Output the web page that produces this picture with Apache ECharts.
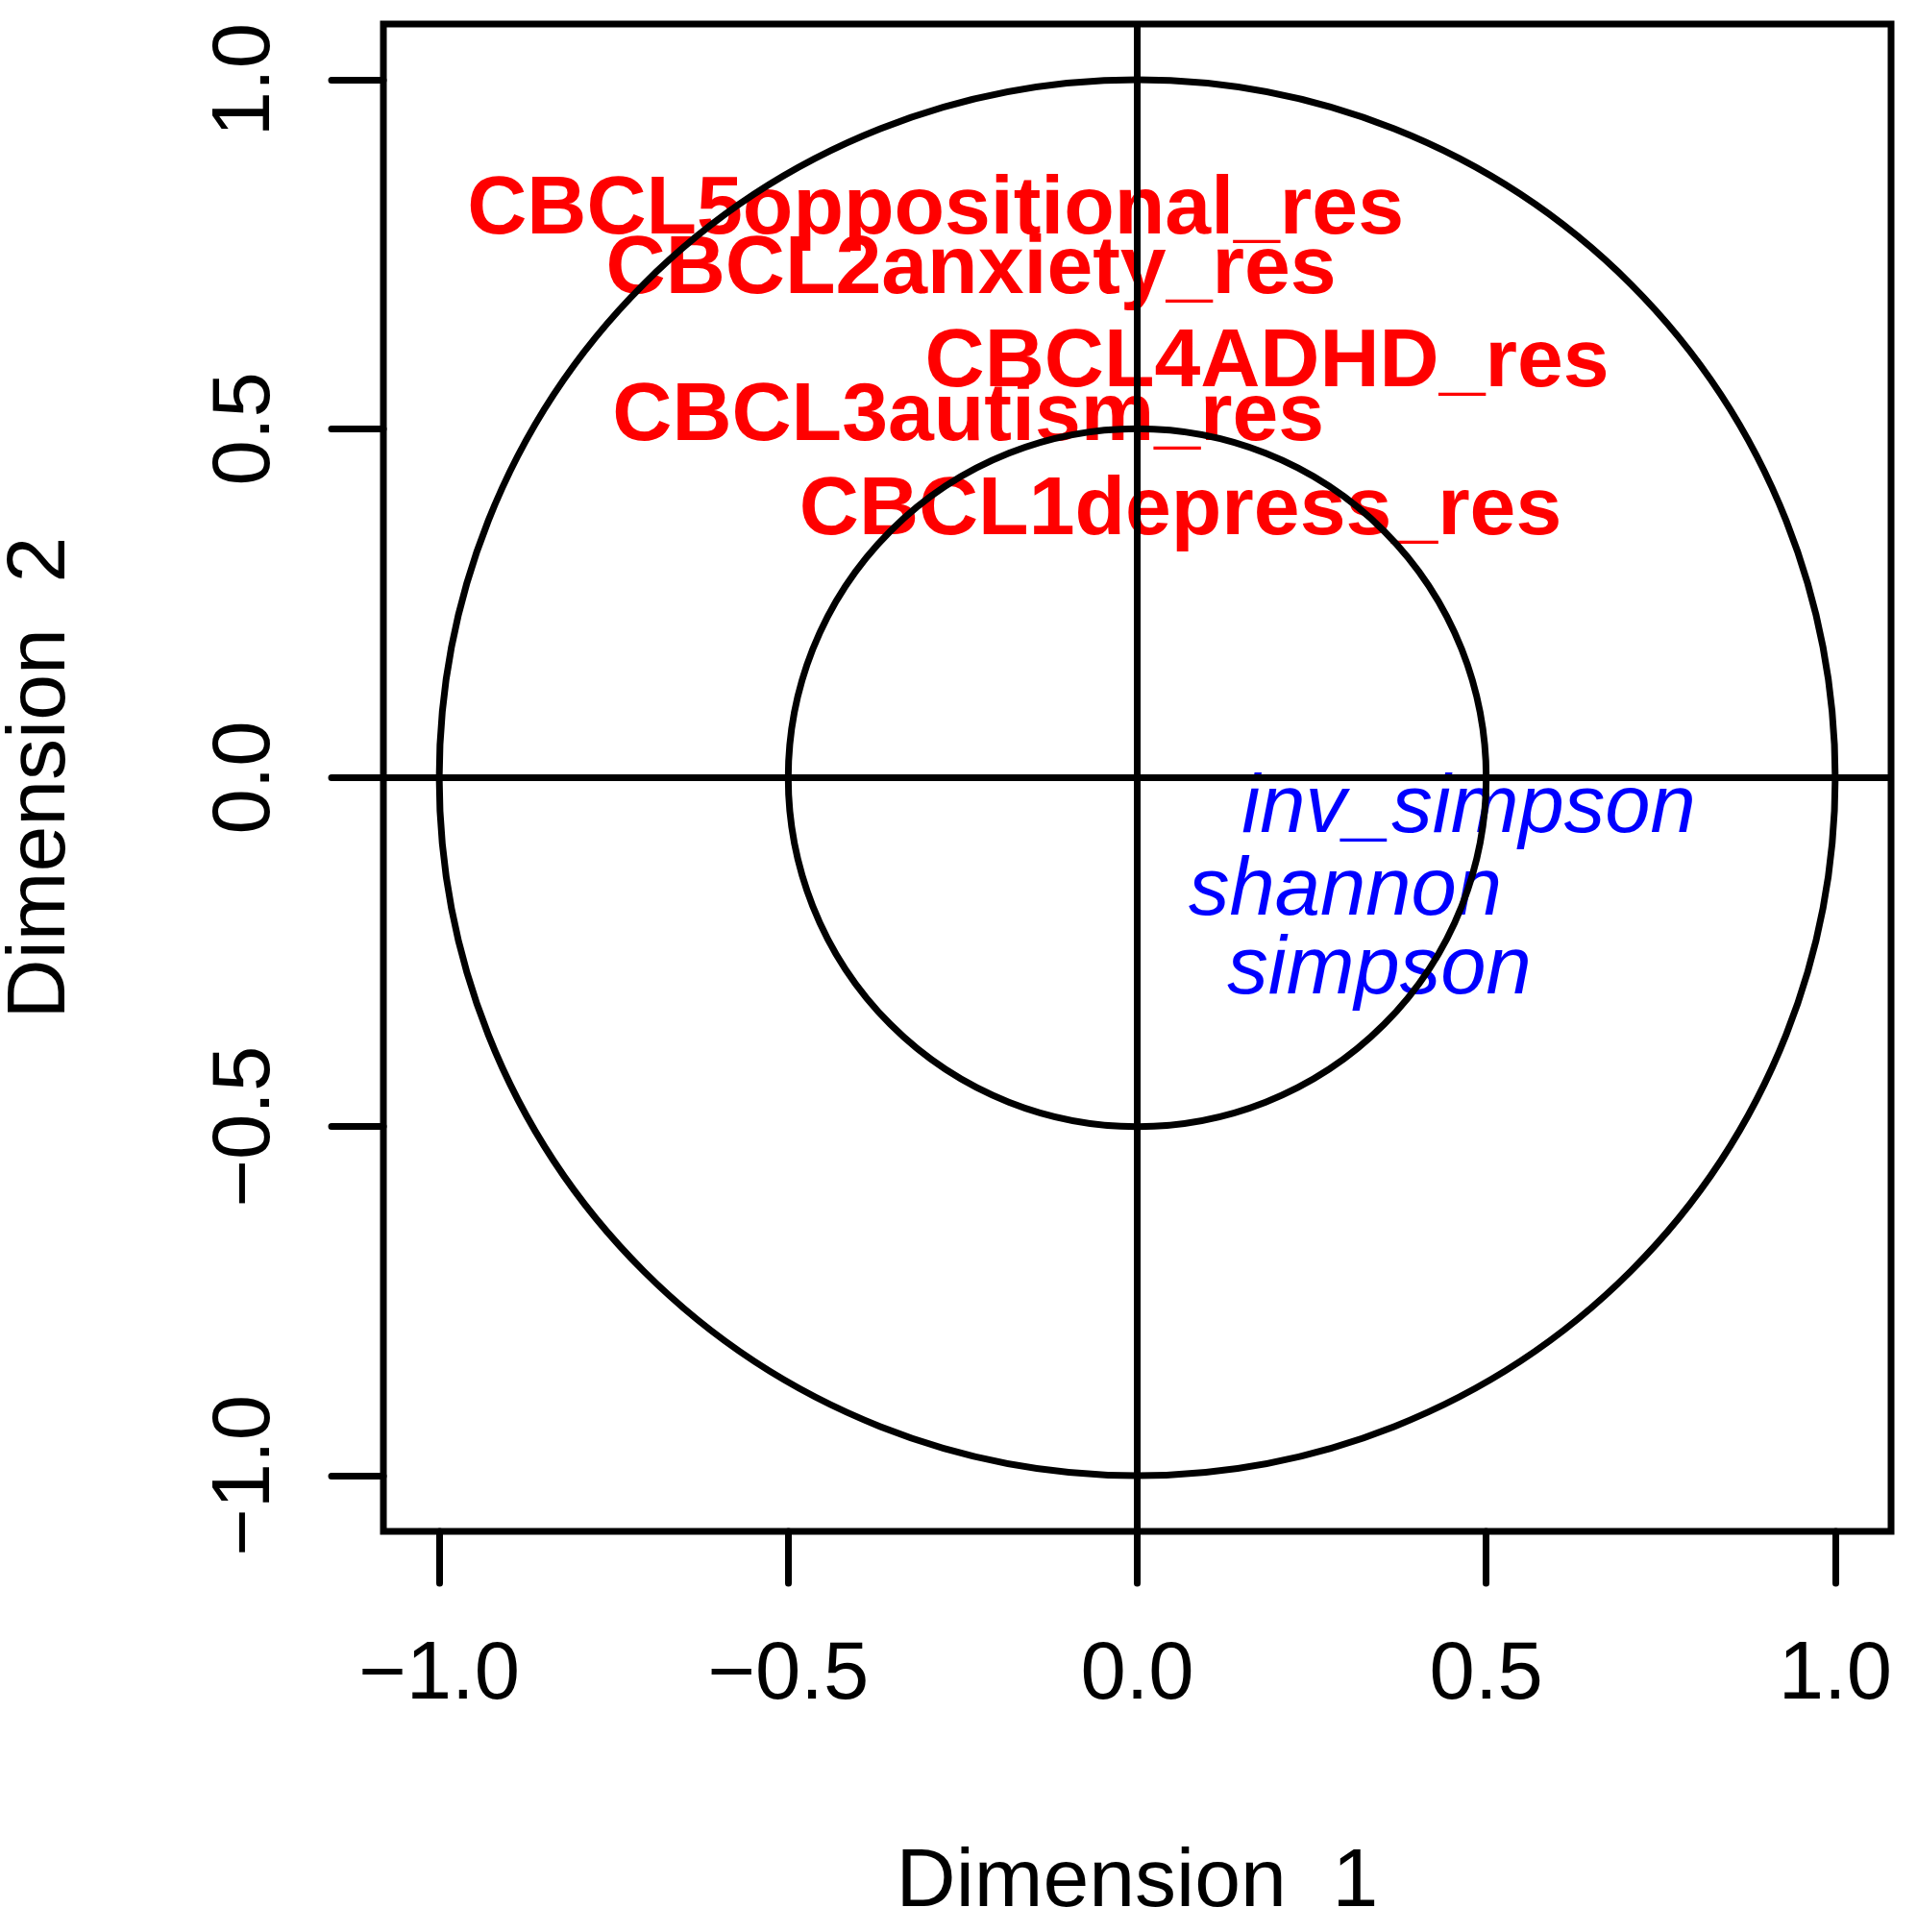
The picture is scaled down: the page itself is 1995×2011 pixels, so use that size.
<!DOCTYPE html>
<html>
<head>
<meta charset="utf-8">
<script src="https://cdn.jsdelivr.net/npm/echarts@6/dist/echarts.min.js"></script>
<style>
html,body{margin:0;padding:0;background:#fff;}
#chart{width:1995px;height:2011px;}
</style>
</head>
<body>
<div id="chart"></div>
<script>
// ---- data ----
const redNames = ["CBCL5oppositional_res","CBCL2anxiety_res","CBCL4ADHD_res","CBCL3autism_res","CBCL1depress_res"];
const redDim1  = [-0.289, -0.238, 0.186, -0.242, 0.062];
const redDim2  = [0.812, 0.727, 0.593, 0.516, 0.382];
const blueNames = ["inv_simpson","shannon","simpson"];
const blueDim1  = [0.475, 0.298, 0.347];
const blueDim2  = [-0.045, -0.164, -0.276];
const tickVals   = [-1, -0.5, 0, 0.5, 1];
const tickLabels = ["\u22121.0","\u22120.5","0.0","0.5","1.0"];
const circleRadii = [1, 0.5];
const xName = "Dimension  1";
const yName = "Dimension  2";

const FONT = "Liberation Sans";
const fmt = v => { const i = tickVals.findIndex(t => Math.abs(t - v) < 1e-9); return i >= 0 ? tickLabels[i] : ""; };

const chart = echarts.init(document.getElementById('chart'), null, {renderer:'canvas'});
const LW = 7;
const axisCommon = {
  type: 'value', min: -1.08, max: 1.08,
  splitLine: {show:false},
  axisLine: {show:false, onZero:false},
  axisTick: {show:true, customValues: tickVals, length: 54, lineStyle:{color:'#000', width:LW, cap:'round'}},
  axisLabel: {show:true, customValues: tickVals, formatter: fmt, color:'#000', fontFamily: FONT, fontSize: 85},
  nameLocation: 'middle',
  nameTextStyle: {color:'#000', fontFamily: FONT, fontSize: 86}
};
const option = {
  animation: false,
  backgroundColor: '#fff',
  grid: {left: 399, right: 27, top: 25, bottom: 417, containLabel: false, outerBoundsMode: 'none',
         show: true, borderColor: '#000', borderWidth: LW, backgroundColor: 'transparent'},
  xAxis: Object.assign({}, axisCommon, {
    name: xName, nameGap: 323,
    axisLabel: Object.assign({}, axisCommon.axisLabel, {margin: 108})
  }),
  yAxis: Object.assign({}, axisCommon, {
    name: yName, nameGap: 313,
    axisLabel: Object.assign({}, axisCommon.axisLabel, {margin: 100, rotate: 90})
  }),
  series: [
    {
      type: 'scatter', z: 2,
      data: redNames.map((n,i) => ({name:n, value:[redDim1[i], redDim2[i]]})),
      symbolSize: 1, itemStyle: {color:'rgba(0,0,0,0)', opacity: 1},
      label: {show:true, position:'inside', formatter: p => p.name, color:'#ff0000', opacity: 1, fontFamily: FONT, fontWeight:'bold', fontSize: 86, align:'center', verticalAlign:'middle'}
    },
    {
      type: 'scatter', z: 2,
      data: blueNames.map((n,i) => ({name:n, value:[blueDim1[i], blueDim2[i]]})),
      symbolSize: 1, itemStyle: {color:'rgba(0,0,0,0)', opacity: 1},
      label: {show:true, position:'inside', formatter: p => p.name, color:'#0000ff', opacity: 1, fontFamily: FONT, fontStyle:'italic', fontSize: 85, align:'center', verticalAlign:'middle'}
    },
    {
      type: 'custom', z: 5, silent: true,
      data: circleRadii.map(r => [0, 0, r]),
      renderItem: function (params, api) {
        const c = api.coord([api.value(0), api.value(1)]);
        const r = api.size([api.value(2), 0])[0];
        return {type:'circle', shape:{cx:c[0], cy:c[1], r:r}, style:{fill:null, stroke:'#000', lineWidth:LW}};
      },
      markLine: {
        silent: true, symbol: ['none','none'], label:{show:false},
        lineStyle: {color:'#000', width:LW, type:'solid', opacity:1},
        data: [{xAxis: 0}, {yAxis: 0}]
      }
    }
  ]
};
chart.setOption(option);
</script>
</body>
</html>
